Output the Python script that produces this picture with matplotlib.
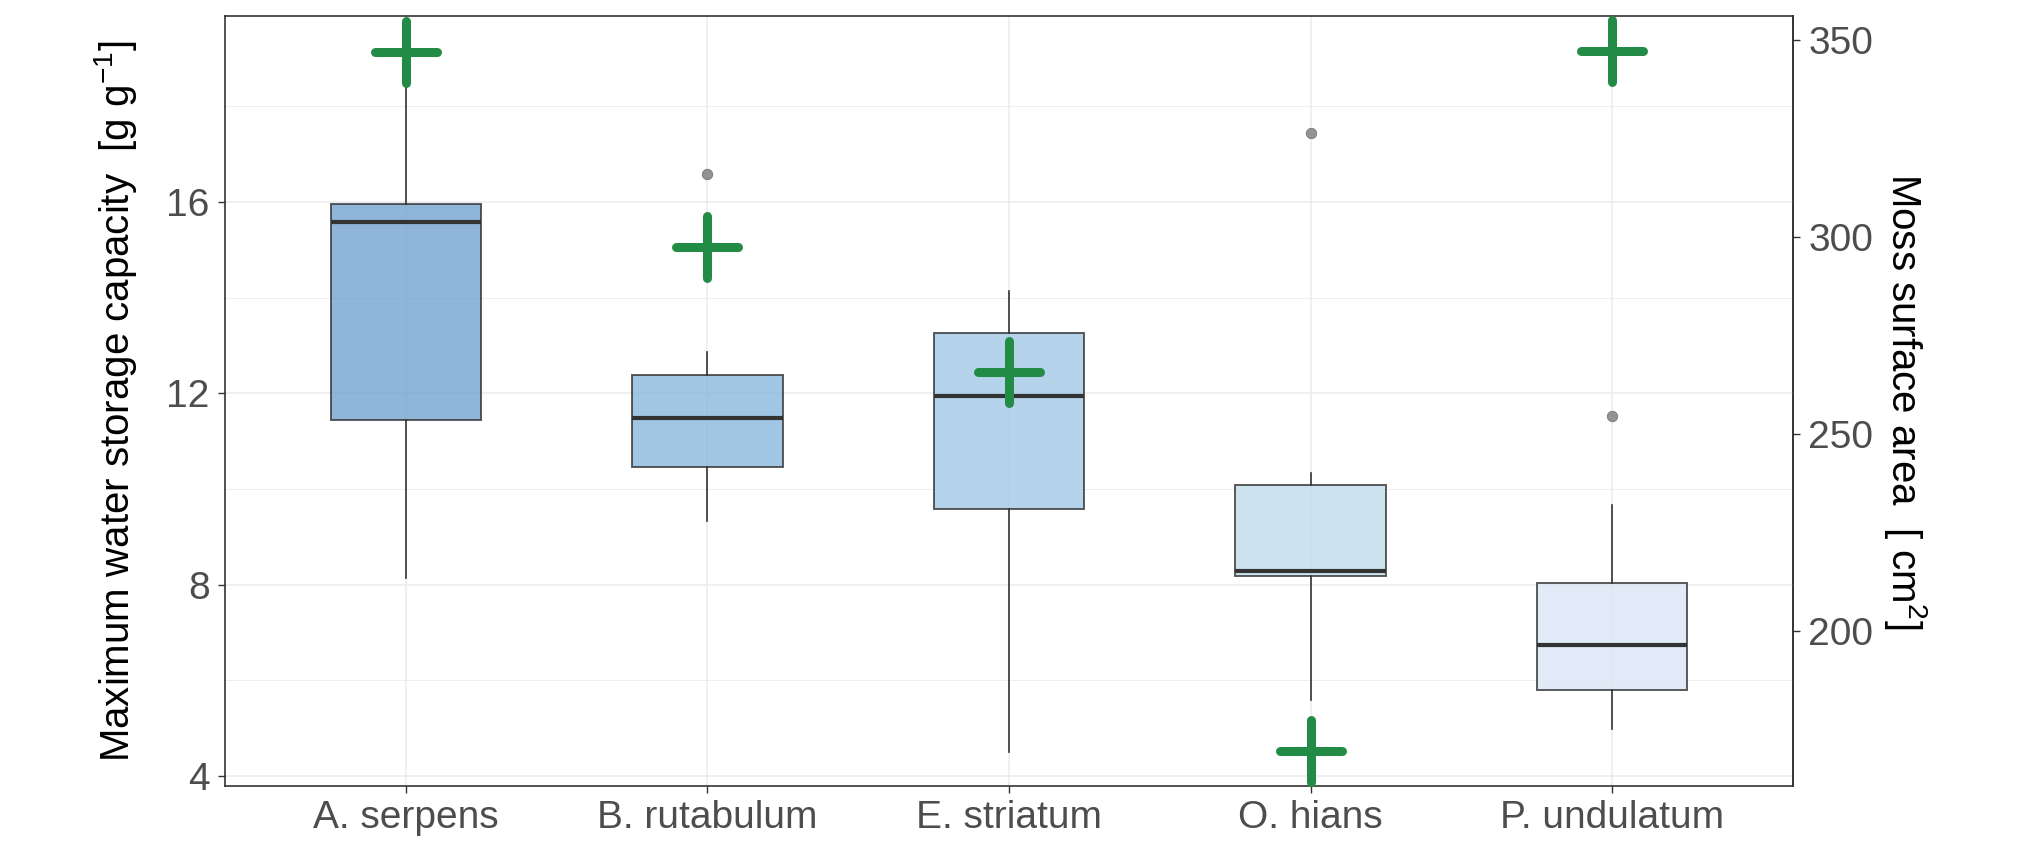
import matplotlib
matplotlib.use('Agg')
import matplotlib.pyplot as plt
from matplotlib.markers import MarkerStyle

# moss water storage capacity + surface area

species = ['A. serpens', 'B. rutabulum', 'E. striatum', 'O. hians', 'P. undulatum']
whis_low = [8.14, 9.33, 4.51, 5.58, 4.98]
q1 = [11.44, 10.45, 9.59, 8.18, 5.80]
median = [15.58, 11.48, 11.95, 8.29, 6.73]
q3 = [15.95, 12.38, 13.27, 10.09, 8.04]
whis_high = [18.7, 12.87, 14.14, 10.34, 9.67]
outliers = [[], [16.59], [], [17.44], [11.53]]
surface_area = [347.0, 297.5, 265.7, 169.5, 347.3]

box_colors = ['#73A3D0', '#88B8DC', '#A3C9E5', '#C0DCEC', '#D9E7F5']

# secondary axis: area = a * capacity + b
a, b = 12.14, 114.66


def to_area(v):
    return v * a + b


def to_capacity(v):
    return (v - b) / a


plt.rcParams['font.family'] = ['Liberation Sans', 'DejaVu Sans']
plt.rcParams['mathtext.fontset'] = 'custom'
plt.rcParams['mathtext.rm'] = 'Liberation Sans'
plt.rcParams['mathtext.it'] = 'Liberation Sans'
plt.rcParams['mathtext.default'] = 'regular'

fig = plt.figure(figsize=(20.31, 8.41), dpi=100)
ax = fig.add_axes([0.1108, 0.0654, 0.7720, 0.9156])

positions = list(range(1, len(species) + 1))
stats = []
for i, name in enumerate(species):
    stats.append({'label': name, 'whislo': whis_low[i], 'q1': q1[i], 'med': median[i],
                  'q3': q3[i], 'whishi': whis_high[i], 'fliers': outliers[i]})

bp = ax.bxp(stats, positions=positions, widths=0.5, patch_artist=True, showcaps=False,
            boxprops=dict(edgecolor='#333333', linewidth=1.4),
            whiskerprops=dict(color='#333333', linewidth=1.2),
            medianprops=dict(color='#333333', linewidth=3.0),
            flierprops=dict(marker='o', markerfacecolor='#888888', markeredgecolor='#6e6e6e',
                            markersize=7.5, markeredgewidth=0.6, alpha=0.9))
for patch, c in zip(bp['boxes'], box_colors):
    patch.set_facecolor(c)
    patch.set_alpha(0.8)
    patch.set_edgecolor('#333333')

cross = MarkerStyle('+', capstyle='round')
ax.plot(positions, [to_capacity(s) for s in surface_area], linestyle='none', marker=cross,
        markersize=44, markeredgewidth=6.5, color='#228B45', zorder=6)

ax.set_xlim(0.4, 5.6)
ax.set_ylim(3.79, 19.89)
ax.set_yticks([4, 8, 12, 16])
ax.set_yticks([6, 10, 14, 18], minor=True)
ax.set_xticks(positions)
ax.set_xticklabels(species)

ax.set_axisbelow(True)
ax.grid(which='major', color='#EBEBEB', linewidth=1.1)
ax.grid(which='minor', axis='y', color='#EBEBEB', linewidth=0.6)
ax.tick_params(which='minor', length=0)
ax.tick_params(which='major', labelsize=28, labelcolor='#4D4D4D', color='#333333',
               length=5, width=1, pad=6)
ax.tick_params(axis='x', pad=5)

for sp in ax.spines.values():
    sp.set_color('#333333')
    sp.set_linewidth(1.2)

ax.set_ylabel('Maximum water storage capacity  [g g$^{-1}$]', fontsize=29, color='black', va='center')
ax.yaxis.set_label_coords(-0.07, 0.5)

sec = ax.secondary_yaxis('right', functions=(to_area, to_capacity))
sec.set_yticks([200, 250, 300, 350])
sec.tick_params(labelsize=28, labelcolor='#4D4D4D', color='#333333', length=5, width=1, pad=6)
sec.spines['right'].set_color('#333333')
sec.spines['right'].set_linewidth(1.2)
sec.set_ylabel('Moss surface area  [ cm$^{2}$]', fontsize=29, color='black', rotation=270, va='center')
sec.yaxis.set_label_coords(1.072, 0.5, transform=ax.transAxes)

fig.savefig('out.png', dpi=100)
plt.close(fig)
